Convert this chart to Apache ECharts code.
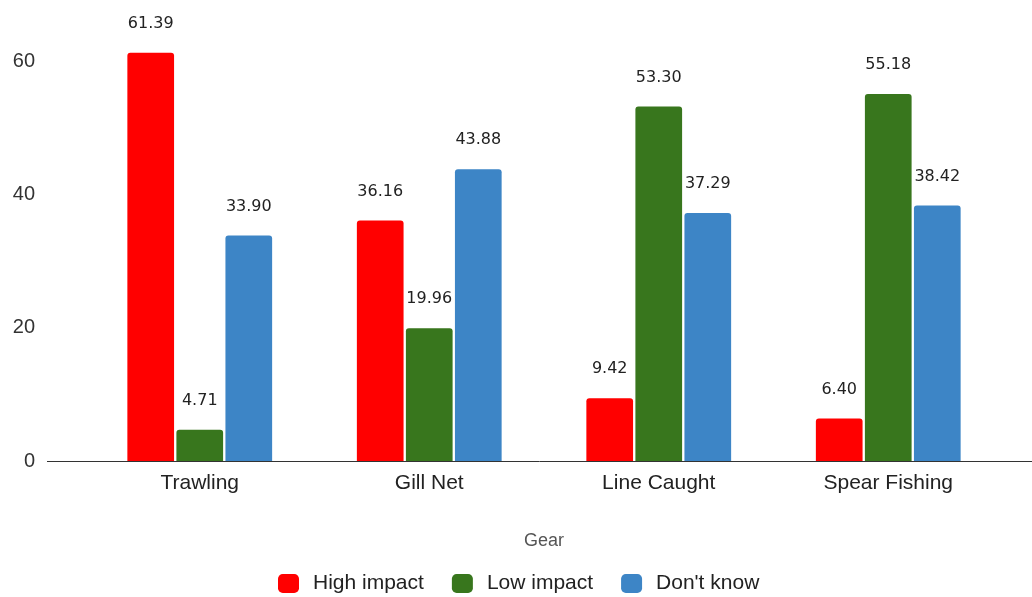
<!DOCTYPE html>
<html><head><meta charset="utf-8">
<script src="https://cdn.jsdelivr.net/npm/echarts@6/dist/echarts.min.js"></script>
<style>html,body{margin:0;padding:0;background:#fff;overflow:hidden}#c{width:1032px;height:597px}</style>
</head><body><div id="c"></div>
<script>
const categories = ['Trawling', 'Gill Net', 'Line Caught', 'Spear Fishing'];
const highImpact = [61.39, 36.16, 9.42, 6.40];
const lowImpact = [4.71, 19.96, 53.30, 55.18];
const dontKnow = [33.90, 43.88, 37.29, 38.42];
const seriesNames = ['High impact', 'Low impact', "Don't know"];
const colors = ['#ff0000', '#38761d', '#3d85c6'];

const chart = echarts.init(document.getElementById('c'), null, {renderer: 'canvas'});
const font = 'Liberation Sans, Arial, sans-serif';
function mk(name, data, color) {
  return {
    name: name, type: 'bar', data: data, barWidth: 46.7, barGap: '5%', clip: false,
    itemStyle: {color: color, borderRadius: [3, 3, 0, 0]},
    label: {show: true, position: 'top', distance: 21, color: '#222', fontSize: 16,
      fontFamily: 'DejaVu Sans, sans-serif', formatter: p => p.value.toFixed(2)}
  };
}
chart.setOption({
  animation: false,
  color: colors,
  grid: {left: 85, right: 29, top: 22, bottom: 136, containLabel: false},
  legend: {
    left: 273, top: 568, itemWidth: 21, itemHeight: 19, itemGap: 28,
    icon: 'roundRect',
    textStyle: {fontSize: 21, color: '#222', fontFamily: font, padding: [0, 0, 0, 9]},
    data: seriesNames
  },
  xAxis: {
    type: 'category', data: categories,
    name: 'Gear', nameLocation: 'middle', nameGap: 71,
    nameTextStyle: {fontSize: 18, color: '#555', fontFamily: font},
    axisLine: {show: false},
    axisTick: {show: false},
    axisLabel: {fontSize: 21, color: '#222', margin: 12, fontFamily: font}
  },
  yAxis: {
    type: 'value', min: 0, max: 66, interval: 20,
    splitLine: {show: false},
    axisLine: {show: false}, axisTick: {show: false},
    axisLabel: {fontSize: 20, color: '#333', margin: 50, fontFamily: font, showMaxLabel: false}
  },
  series: [mk(seriesNames[0], highImpact, colors[0]), mk(seriesNames[1], lowImpact, colors[1]), mk(seriesNames[2], dontKnow, colors[2])]
});
// baseline spanning the full width like the reference
const y0 = Math.round(chart.convertToPixel({yAxisIndex: 0}, 0)) + 0.5;
chart.setOption({graphic: [{type: 'line', shape: {x1: 47, y1: y0, x2: 1032, y2: y0},
  style: {stroke: '#333', lineWidth: 1}, z: 0}]});
</script></body></html>
